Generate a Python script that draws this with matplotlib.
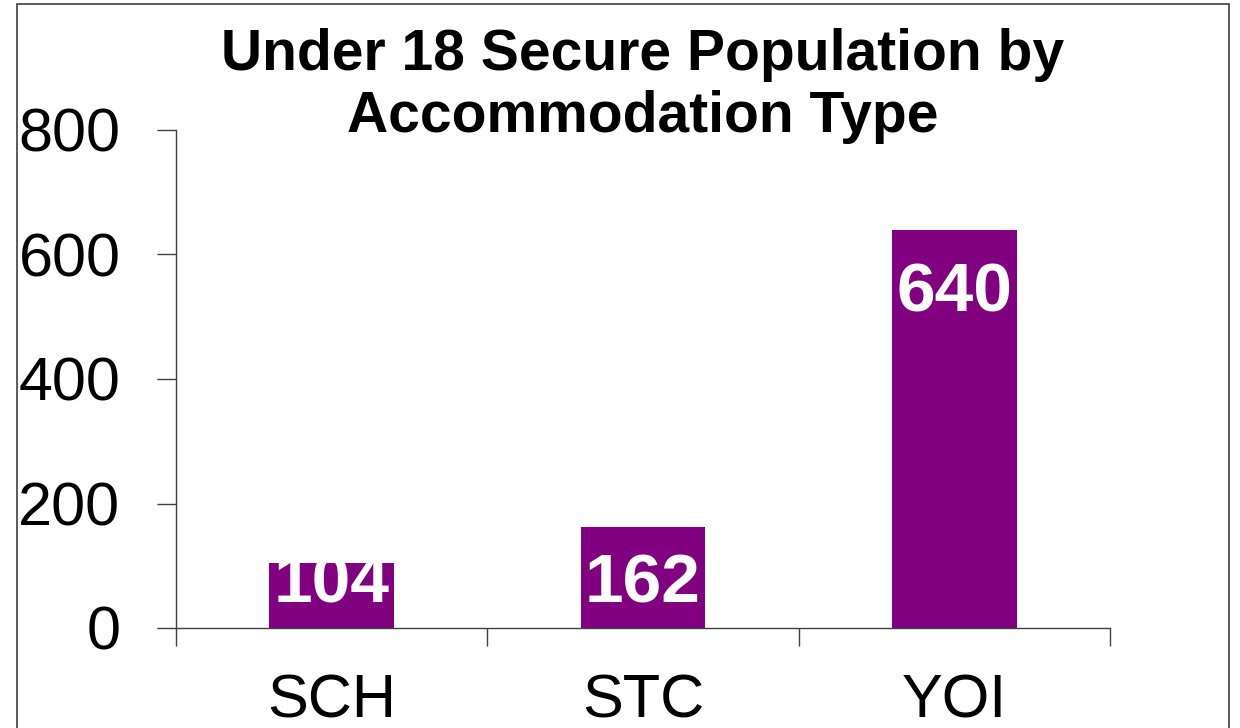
import matplotlib.pyplot as plt
from matplotlib.patches import Rectangle

# Dados do gráfico
categorias = ['SCH', 'STC', 'YOI']
valores = [104, 162, 640]
titulo = 'Under 18 Secure Population by\nAccommodation Type'
yticks = [0, 200, 400, 600, 800]

plt.rcParams['font.family'] = ['Liberation Sans', 'DejaVu Sans']

fig = plt.figure(figsize=(12.4, 7.28), dpi=100)
ax = fig.add_axes([176 / 1240, 100 / 728, 934 / 1240, 498 / 728])

x = list(range(len(categorias)))
ax.bar(x, valores, width=0.4, color='#800080', zorder=2)

ax.set_xlim(-0.5, len(categorias) - 0.5)
ax.set_ylim(0, 800)

# rótulos de valores dentro das barras
for xi, v in zip(x, valores):
    ax.text(xi, max(v - 132, 41), str(v), ha='center', va='baseline',
            color='white', fontsize=50, fontweight='bold', zorder=3)

# eixos
for s in ['top', 'right']:
    ax.spines[s].set_visible(False)
for s in ['left', 'bottom']:
    ax.spines[s].set_color('#404040')
    ax.spines[s].set_linewidth(1)

ax.set_yticks(yticks)
ax.tick_params(axis='y', direction='out', length=14, width=1, color='#404040',
               labelsize=44, pad=26)
ax.set_xticks([i - 0.5 for i in range(len(categorias) + 1)])
ax.set_xticklabels([])
ax.set_xticks(x, minor=True)
ax.set_xticklabels(categorias, minor=True)
ax.tick_params(axis='x', which='major', direction='out', length=13, width=1, color='#404040')
ax.tick_params(axis='x', which='minor', length=0, labelsize=44, pad=33)

fig.text(643 / 1240, 1 - 28 / 728, titulo, ha='center', va='top',
         fontsize=41, fontweight='bold', linespacing=1.19)

# moldura da figura
fig.patches.append(Rectangle((17 / 1240, -0.1), 1212 / 1240, 1.1 - 4 / 728,
                             transform=fig.transFigure, fill=False,
                             edgecolor='#404040', linewidth=1.2))

fig.savefig('out.png', dpi=100)
